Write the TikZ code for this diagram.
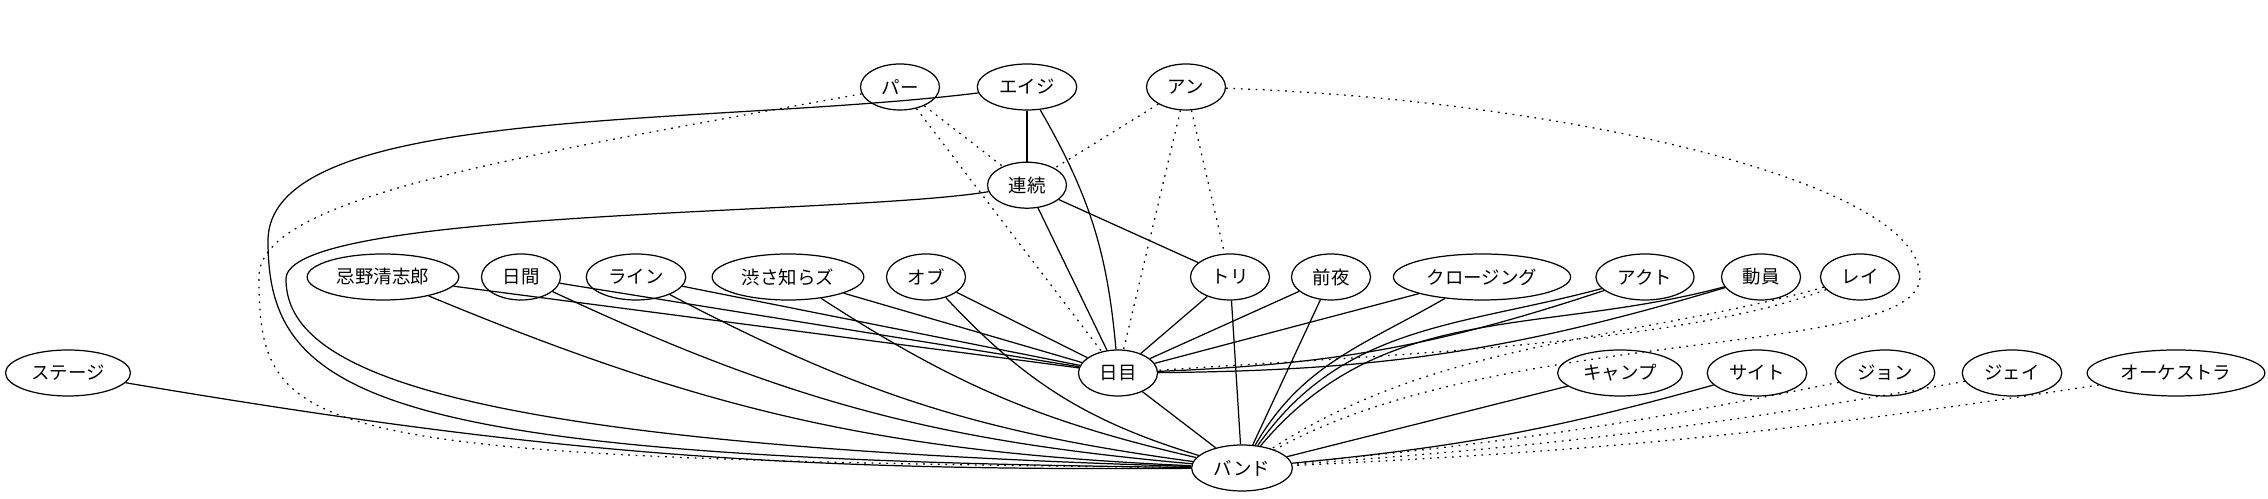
\documentclass[tikz,border=0pt]{standalone}
\usepackage{fontspec}
\newfontfamily\jpfont{Noto Sans CJK JP}
\usetikzlibrary{shapes,positioning}

\begin{document}
\begin{tikzpicture}[x=0.02cm, y=0.02cm, line width=0.7pt,
    every node/.style={draw, ellipse, font=\jpfont\fontsize{10.5pt}{12pt}\selectfont,
      minimum width=1.58cm, minimum height=0.92cm, inner xsep=0.15cm, inner ysep=0.05cm},
    weak/.style={dash pattern=on 1pt off 3.2pt}]
      \useasboundingbox (0,0) rectangle (2268,499);

      % top
      \node[] (pa) at (900,412) {パー};
      \node[] (eiji) at (1027,412) {エイジ};
      \node[] (an) at (1186,412) {アン};
      \node[] (renzoku) [below=1.02cm of eiji] {連続};

      % middle row
      \node[] (imawano) at (383,222) {忌野清志郎};
      \node[] (nikkan) at (521,222) {日間};
      \node[] (rain) at (636,222) {ライン};
      \node[] (shibusa) at (788,222) {渋さ知らズ};
      \node[] (obu) at (926,222) {オブ};
      \node[] (tori) at (1230,222) {トリ};
      \node[] (zenya) at (1331,222) {前夜};
      \node[] (closing) at (1482,222) {クロージング};
      \node[] (akuto) at (1645,222) {アクト};
      \node[] (douin) at (1761,222) {動員};
      \node[] (rei) at (1860,222) {レイ};

      % lower row
      \node[] (stage) at (68,126) {ステージ};
      \node[] (nichime) at (1118,126) {日目};
      \node[] (camp) at (1620,126) {キャンプ};
      \node[] (site) at (1757,126) {サイト};
      \node[] (john) at (1885,126) {ジョン};
      \node[] (jay) at (2012,126) {ジェイ};
      \node[] (orch) at (2176,126) {オーケストラ};
      \node[] (band) at (1242,31) {バンド};

      \draw (eiji) edge [] (renzoku);
      \draw (eiji) edge [out=-60, in=95] (nichime);
      \draw (renzoku) edge [] (nichime);
      \draw (renzoku) edge [] (tori);
      \draw (eiji) .. controls (700,372) and (268,395) .. (268,258)
                   .. controls (268,100) and (380,40) .. (band);
      \draw (renzoku) .. controls (850,284) and (286,290) .. (286,220)
                      .. controls (286,130) and (440,55) .. (band);

      \draw (imawano) edge [] (nichime);
      \draw (imawano) edge [bend right=10] (band);
      \draw (nikkan) edge [] (nichime);
      \draw (nikkan) edge [bend right=10] (band);
      \draw (rain) edge [] (nichime);
      \draw (rain) edge [bend right=10] (band);
      \draw (shibusa) edge [] (nichime);
      \draw (shibusa) edge [bend right=10] (band);
      \draw (obu) edge [] (nichime);
      \draw (obu) edge [bend right=15] (band);
      \draw (tori) edge [] (nichime);
      \draw (tori) edge [] (band);
      \draw (zenya) edge [] (nichime);
      \draw (zenya) edge [] (band);
      \draw (closing) edge [] (nichime);
      \draw (closing) edge [out=-150, in=60] (band);
      \draw (akuto) edge [bend left=8] (nichime);
      \draw (akuto) edge [out=-165, in=55] (band);
      \draw (douin) edge [bend left=8] (nichime);
      \draw (douin) edge [out=-165, in=50] (band);
      \draw (nichime) edge [] (band);
      \draw (stage) edge [bend right=5] (band);
      \draw (camp) edge [] (band);
      \draw (site) edge [bend left=5] (band);

      % dotted ones
      \draw[weak] (pa) edge [] (renzoku);
      \draw[weak] (pa) edge [] (nichime);
      \draw[weak] (pa) .. controls (500,340) and (259,300) .. (259,222)
                       .. controls (259,60) and (300,40) .. (band);
      \draw[weak] (an) edge [] (renzoku);
      \draw[weak] (an) edge [] (nichime);
      \draw[weak] (an) edge [] (tori);
      \draw[weak] (an) .. controls (1550,400) and (1920,320) .. (1920,222)
                       .. controls (1920,140) and (1500,175) .. (band);
      \draw[weak] (rei) .. controls (1680,155) and (1400,145) .. (nichime);
      \draw[weak] (rei) .. controls (1640,160) and (1440,160) .. (band);
      \draw[weak] (john) edge [bend left=3] (band);
      \draw[weak] (jay) edge [bend left=3] (band);
      \draw[weak] (orch) edge [bend left=3] (band);
    \end{tikzpicture}
\end{document}
